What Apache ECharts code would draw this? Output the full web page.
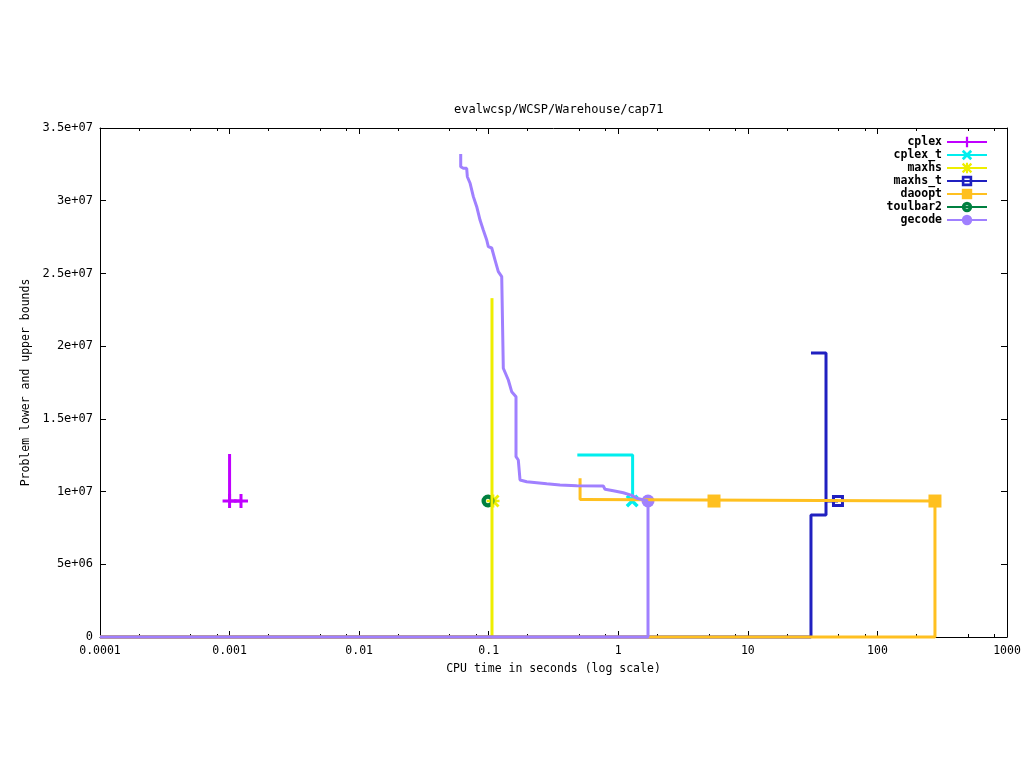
<!DOCTYPE html>
<html>
<head>
<meta charset="utf-8">
<script src="https://cdn.jsdelivr.net/npm/echarts@6/dist/echarts.min.js"></script>
<style>html,body{margin:0;padding:0;background:#fff}#c{width:1024px;height:768px}</style>
</head>
<body>
<div id="c"></div>
<script>
// ---- data (times in seconds, bound values) ----
const solvers = ['cplex','cplex_t','maxhs','maxhs_t','daoopt','toulbar2','gecode'];
const colors  = ['#c000ff','#00eeee','#eeee00','#2020c0','#ffc020','#008040','#a080ff'];

const cplexUpperT = [0.001, 0.001, 0.001225];
const cplexUpperV = [1.258e7, 9.35e6, 9.35e6];
const cplexMarkT  = [0.001, 0.001225];
const cplexMarkV  = [9.35e6, 9.35e6];

const cplexTUpperT = [0.483, 1.29, 1.29];
const cplexTUpperV = [1.252e7, 1.252e7, 9.35e6];
const cplexTMarkT  = [1.28];
const cplexTMarkV  = [9.35e6];

const maxhsUpperT = [0.106, 0.106, 0.107];
const maxhsUpperV = [2.33e7, 9.35e6, 9.35e6];
const maxhsLowerT = [0.0001, 0.106, 0.106];
const maxhsLowerV = [0, 0, 9.35e6];
const maxhsMarkT  = [0.108];
const maxhsMarkV  = [9.35e6];

const maxhsTUpperT = [30.7, 40.1, 40.1, 49.6];
const maxhsTUpperV = [1.953e7, 1.953e7, 9.35e6, 9.35e6];
const maxhsTLowerT = [0.0001, 30.7, 30.7, 40.1, 40.1];
const maxhsTLowerV = [0, 0, 8.39e6, 8.39e6, 9.35e6];
const maxhsTMarkT  = [49.6];
const maxhsTMarkV  = [9.35e6];

const daooptUpperT = [0.507, 0.507, 0.554, 0.554, 278];
const daooptUpperV = [1.091e7, 9.45e6, 9.45e6, 9.35e6, 9.35e6];
const daooptLowerT = [0.0001, 278, 278];
const daooptLowerV = [0, 0, 9.35e6];
const daooptMarkT  = [5.48, 278];
const daooptMarkV  = [9.35e6, 9.35e6];

const toulbarMarkT = [0.0987];
const toulbarMarkV = [9.35e6];

const gecodeUpperT = [0.0608,0.0608,0.0637,0.0676,0.0684,0.0717,0.0761,0.0808,0.0857,0.0908,0.0965,0.0993,0.1055,0.1119,0.1186,0.1260,0.1296,0.1296,0.1336,0.1417,0.1504,0.1624,0.1624,0.1692,0.1744,0.1744,0.1797,0.1965,0.2347,0.2803,0.3548,0.4777,0.7663,0.7898,0.9154,1.093,1.270,1.388,1.696];
const gecodeUpperV = [3.321e7,3.234e7,3.223e7,3.223e7,3.165e7,3.122e7,3.028e7,2.959e7,2.867e7,2.799e7,2.730e7,2.684e7,2.675e7,2.592e7,2.512e7,2.478e7,2.466e7,1.848e7,1.836e7,1.767e7,1.687e7,1.652e7,1.240e7,1.217e7,1.205e7,1.080e7,1.075e7,1.068e7,1.061e7,1.054e7,1.045e7,1.040e7,1.038e7,1.016e7,1.006e7,9.92e6,9.74e6,9.54e6,9.35e6];
const gecodeLowerT = [0.0001, 1.696, 1.696];
const gecodeLowerV = [0, 0, 9.35e6];
const gecodeMarkT  = [1.696];
const gecodeMarkV  = [9.35e6];

const xTickLabels = ['0.0001','0.001','0.01','0.1','1','10','100','1000'];
const yTickValues = [0,5e6,1e7,1.5e7,2e7,2.5e7,3e7,3.5e7];

// ---- helpers ----
const zip = (t, v) => t.map((x, i) => [x, v[i]]);
const plusPath = 'path://M0,5.5L14,5.5L14,8.5L0,8.5Z M5.5,0L8.5,0L8.5,14L5.5,14Z';
const crossPath = 'path://M0,2.6L2.6,0L14,11.4L11.4,14Z M11.4,0L14,2.6L2.6,14L0,11.4Z';
const starPath = 'path://M0,5.6L14,5.6L14,8.4L0,8.4Z M5.6,0L8.4,0L8.4,14L5.6,14Z M0,2.2L2.2,0L14,11.8L11.8,14Z M11.8,0L14,2.2L2.2,14L0,11.8Z';
const openSquarePath = 'path://M0,0L12,0L12,12L0,12Z M3,3L3,9L9,9L9,3Z';
const ringPath = 'path://M0,7A7,7 0 1,0 14,7A7,7 0 1,0 0,7Z M4.6,7A2.4,2.4 0 1,1 9.4,7A2.4,2.4 0 1,1 4.6,7Z';
const symbols = [plusPath, crossPath, starPath, openSquarePath, 'rect', ringPath, 'circle'];
const symSizes = [14, 13, 13, 12, 13, 13, 13];

const lines = {
  cplex:   [zip(cplexUpperT, cplexUpperV)],
  cplex_t: [zip(cplexTUpperT, cplexTUpperV)],
  maxhs:   [zip(maxhsUpperT, maxhsUpperV), zip(maxhsLowerT, maxhsLowerV)],
  maxhs_t: [zip(maxhsTUpperT, maxhsTUpperV), zip(maxhsTLowerT, maxhsTLowerV)],
  daoopt:  [zip(daooptUpperT, daooptUpperV), zip(daooptLowerT, daooptLowerV)],
  toulbar2: [],
  gecode:  [zip(gecodeUpperT, gecodeUpperV), zip(gecodeLowerT, gecodeLowerV)]
};
const marks = {
  cplex: zip(cplexMarkT, cplexMarkV),
  cplex_t: zip(cplexTMarkT, cplexTMarkV),
  maxhs: zip(maxhsMarkT, maxhsMarkV),
  maxhs_t: zip(maxhsTMarkT, maxhsTMarkV),
  daoopt: zip(daooptMarkT, daooptMarkV),
  toulbar2: zip(toulbarMarkT, toulbarMarkV),
  gecode: zip(gecodeMarkT, gecodeMarkV)
};

const series = [];
solvers.forEach((name, i) => {
  const c = colors[i];
  const ls = lines[name];
  series.push({
    name, type: 'line', data: ls.length ? ls[0] : [], symbol: symbols[i], symbolSize: symSizes[i],
    showSymbol: false, clip: false, animation: false,
    lineStyle: { color: c, width: 3 }, itemStyle: { color: c }
  });
  for (let k = 1; k < ls.length; k++) {
    series.push({ name, type: 'line', data: ls[k], showSymbol: false, symbol: 'none', clip: false, animation: false,
      lineStyle: { color: c, width: 3 }, itemStyle: { color: c } });
  }
  series.push({ name, type: 'scatter', data: marks[name], symbol: symbols[i], symbolSize: symSizes[i],
    clip: false, animation: false, itemStyle: { color: c, opacity: 1 } });
});

const minorLog = [];
for (let d = -4; d < 3; d++) [2, 5, 8].forEach(m => minorLog.push(d + Math.log10(m)));

const font = 'DejaVu Sans Mono';
const fmtX = v => String(+(+v).toPrecision(6));
const fmtY = v => v === 0 ? '0' : v.toExponential().replace(/e([+-])(\d)$/, 'e$10$2');

const majorTick = { show: true, inside: true, length: 6, lineStyle: { color: '#000', width: 1 } };
const axisLine = { show: true, onZero: false, lineStyle: { color: '#000', width: 1 } };
const noLine = { show: false, onZero: false };

const chart = echarts.init(document.getElementById('c'), null, { renderer: 'canvas' });
chart.setOption({
  backgroundColor: '#fff',
  animation: false,
  title: { text: 'evalwcsp/WCSP/Warehouse/cap71', left: 449, top: 99,
    textStyle: { fontFamily: font, fontSize: 12, fontWeight: 'normal', color: '#000' } },
  grid: { left: 100, right: 17, top: 128, bottom: 131 },
  legend: {
    orient: 'vertical', right: 31, top: 131, align: 'right', itemWidth: 40, itemHeight: 13, itemGap: 1,
    selectedMode: false,
    textStyle: { fontFamily: font, fontSize: 11.5, fontWeight: 'bold', color: '#000' },
    data: solvers
  },
  xAxis: [
    { type: 'log', logBase: 10, min: 0.0001, max: 1000, position: 'bottom',
      name: 'CPU time in seconds (log scale)', nameLocation: 'middle', nameGap: 26,
      nameTextStyle: { fontFamily: font, fontSize: 11.5, color: '#000' },
      axisLine, axisTick: majorTick, splitLine: { show: false }, minorTick: { show: false },
      axisLabel: { formatter: fmtX, fontFamily: font, fontSize: 11.5, color: '#000', margin: 8 } },
    { type: 'log', logBase: 10, min: 0.0001, max: 1000, position: 'top',
      axisLine, axisTick: majorTick, splitLine: { show: false }, axisLabel: { show: false } },
    { type: 'value', min: -4, max: 3, position: 'bottom', axisLine: noLine,
      axisTick: { show: true, inside: true, length: 3, customValues: minorLog, lineStyle: { color: '#000' } },
      axisLabel: { show: false }, splitLine: { show: false } },
    { type: 'value', min: -4, max: 3, position: 'top', axisLine: noLine,
      axisTick: { show: true, inside: true, length: 3, customValues: minorLog, lineStyle: { color: '#000' } },
      axisLabel: { show: false }, splitLine: { show: false } }
  ],
  yAxis: [
    { type: 'value', min: 0, max: 3.5e7, interval: 5e6, position: 'left',
      name: 'Problem lower and upper bounds', nameLocation: 'middle', nameGap: 68, nameRotate: 90,
      nameTextStyle: { fontFamily: font, fontSize: 11.5, color: '#000' },
      axisLine, axisTick: majorTick, splitLine: { show: false },
      axisLabel: { formatter: fmtY, fontFamily: font, fontSize: 12, color: '#000', margin: 7 } },
    { type: 'value', min: 0, max: 3.5e7, interval: 5e6, position: 'right',
      axisLine, axisTick: majorTick, splitLine: { show: false }, axisLabel: { show: false } }
  ],
  series
});
</script>
</body>
</html>
